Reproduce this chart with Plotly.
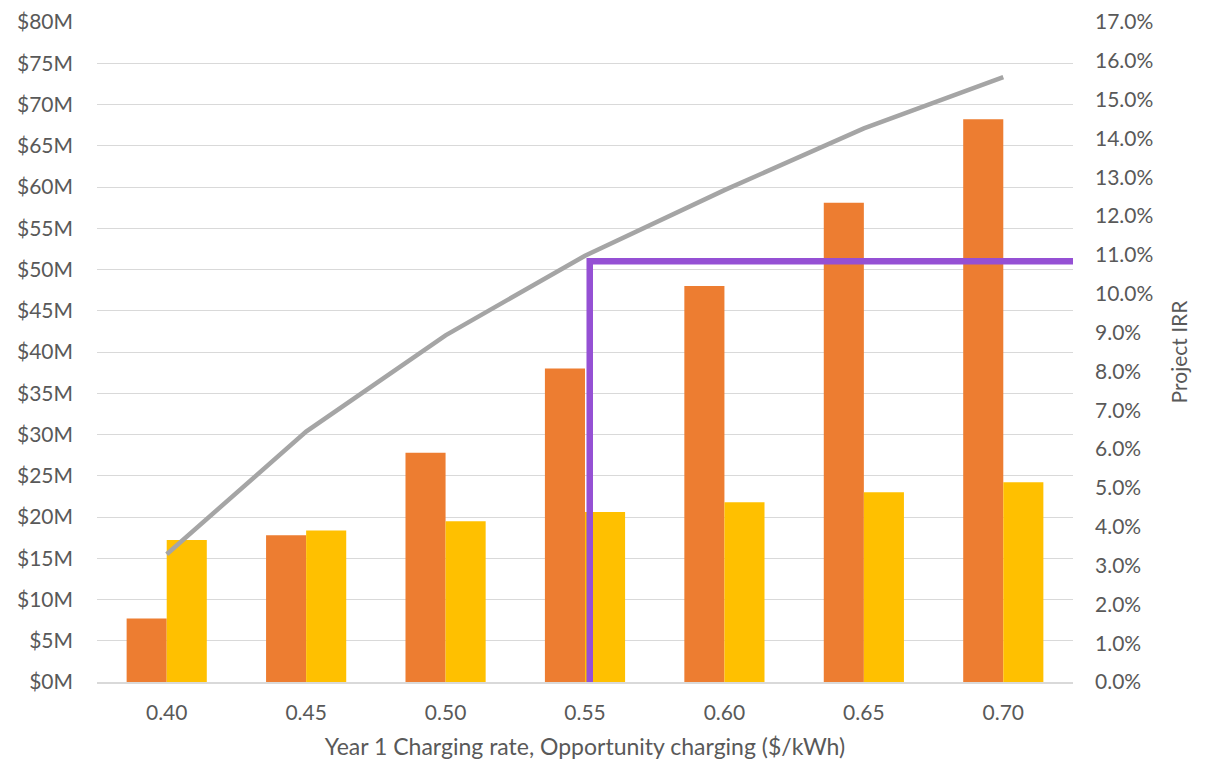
import plotly.graph_objects as go

categories = ["0.40", "0.45", "0.50", "0.55", "0.60", "0.65", "0.70"]
orange_vals = [7.7, 17.8, 27.8, 38.0, 48.0, 58.1, 68.2]      # $M
yellow_vals = [17.2, 18.35, 19.5, 20.6, 21.8, 23.0, 24.2]    # $M
irr_vals = [3.29, 6.45, 8.93, 10.98, 12.67, 14.26, 15.58]    # %
target_irr = 10.84
target_x = 3.034

FONT = "Lato"
TXT = "#595959"
GRID = "#D9D9D9"

fig = go.Figure()
fig.add_trace(go.Bar(x=categories, y=orange_vals, marker_color="#ED7D31",
                     marker_line_width=0, showlegend=False))
fig.add_trace(go.Bar(x=categories, y=yellow_vals, marker_color="#FFC000",
                     marker_line_width=0, showlegend=False))
fig.add_trace(go.Scatter(x=categories, y=irr_vals, yaxis="y2", mode="lines",
                         line=dict(color="#A5A5A5", width=4.5), showlegend=False))

fig.add_shape(type="path",
              path=f"M {target_x},0 L {target_x},{target_irr} L 6.5,{target_irr}",
              xref="x", yref="y2", line=dict(color="#9550D4", width=6.5))

# page has an 8px body margin, so the figure is 1200x752 placed at (8,8)
fig.update_layout(
    width=1200, height=752,
    margin=dict(l=89, r=135, t=14, b=78, autoexpand=False),
    paper_bgcolor="white", plot_bgcolor="white",
    barmode="group", bargap=0.425, bargroupgap=0,
    font=dict(family=FONT, size=21, color=TXT),
    xaxis=dict(range=[-0.5, 6.5], showline=True, linecolor=GRID, linewidth=1.5,
               ticks="", showgrid=False, ticklabelstandoff=11, automargin=False,
               title=dict(text="Year 1 Charging rate, Opportunity charging ($/kWh)",
                          font=dict(size=23, color=TXT), standoff=17)),
    yaxis=dict(range=[0, 80], dtick=5, tickprefix="$", ticksuffix="M",
               showgrid=True, gridcolor=GRID, gridwidth=1.3, zeroline=False,
               showline=False, ticks="", ticklabelstandoff=23, automargin=False,
               ticklabeloverflow="allow"),
    yaxis2=dict(range=[0, 17], dtick=1, tickformat=".1f", ticksuffix="%",
                overlaying="y", side="right", showgrid=False, zeroline=False,
                ticks="", ticklabelstandoff=21, automargin=False,
                ticklabeloverflow="allow",
                title=dict(text="Project IRR", font=dict(size=21, color=TXT), standoff=19)),
)

fig.write_html("out.html")
